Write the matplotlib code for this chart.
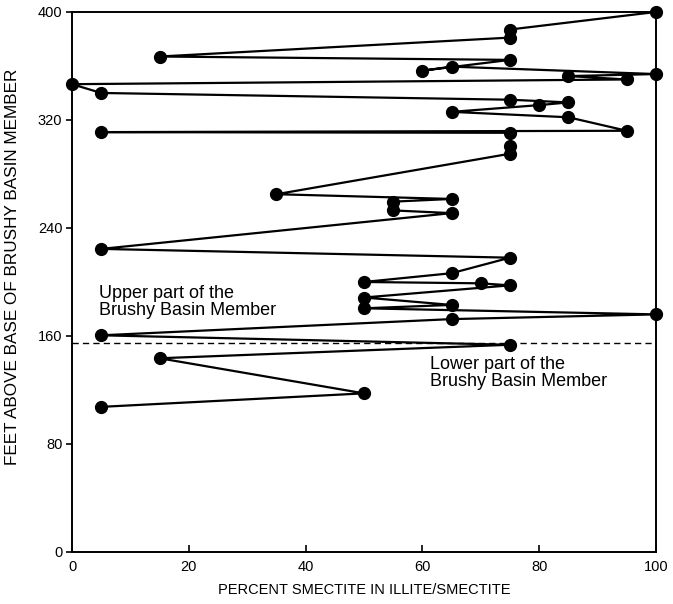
import matplotlib
matplotlib.use("Agg")
import matplotlib.pyplot as plt

plt.rcParams['font.family'] = ['Liberation Sans', 'DejaVu Sans']

# Percent smectite in illite/smectite, listed from top of section downward
smectite = [100, 75, 75, 15, 75, 60, 65, 100, 85, 95, 0, 5, 75, 85, 80, 65, 85, 95,
            5, 75, 75, 75, 35, 65, 55, 55, 65, 5, 75, 65, 50, 70, 75, 50, 65, 50,
            100, 65, 5, 75, 15, 50, 5]
# Feet above base of Brushy Basin Member
feet = [400, 387, 381, 367, 364.5, 356.5, 359.5, 354, 352.5, 350, 346.5, 340, 335,
        333, 331, 326, 322, 312, 311, 310.5, 300.5, 295, 265, 261.5, 259.5, 253,
        251, 224.5, 218, 206.5, 200, 199, 197.5, 188.5, 183, 180.5, 176, 172.5,
        160.5, 153.5, 143.5, 117.5, 107.5]

boundary_ft = 155
xticks = [0, 20, 40, 60, 80, 100]
yticks = [0, 80, 160, 240, 320, 400]

fig = plt.figure(figsize=(6.73, 6.04), dpi=100)
ax = fig.add_axes([0.107, 0.0861, 0.8677, 0.8941])

ax.plot(smectite, feet, color='black', linewidth=1.6, marker='o',
        markersize=8.5, markerfacecolor='black', markeredgecolor='black',
        clip_on=False, zorder=3)
ax.plot([0, 100], [boundary_ft, boundary_ft], color='black', linewidth=1.0,
        linestyle=(0, (4.5, 3)), zorder=2)

ax.set_xlim(0, 100)
ax.set_ylim(0, 400)
ax.set_xticks(xticks)
ax.set_yticks(yticks)
ax.tick_params(axis='x', direction='in', length=5, width=1.2, labelsize=10.5, pad=6)
ax.tick_params(axis='y', direction='out', length=4, width=1.2, labelsize=10.5, pad=3)
for s in ax.spines.values():
    s.set_linewidth(1.4)

ax.set_xlabel('PERCENT SMECTITE IN ILLITE/SMECTITE', fontsize=10.5, labelpad=6)
ax.set_ylabel('FEET ABOVE BASE OF BRUSHY BASIN MEMBER', fontsize=12.3)
ax.yaxis.set_label_coords(-0.089, 0.528)

ax.text(4.7, 198, 'Upper part of the\nBrushy Basin Member', fontsize=13,
        ha='left', va='top', linespacing=1.0)
ax.text(61.3, 145, 'Lower part of the\nBrushy Basin Member', fontsize=13,
        ha='left', va='top', linespacing=1.0)

fig.savefig('out.png', dpi=100)
